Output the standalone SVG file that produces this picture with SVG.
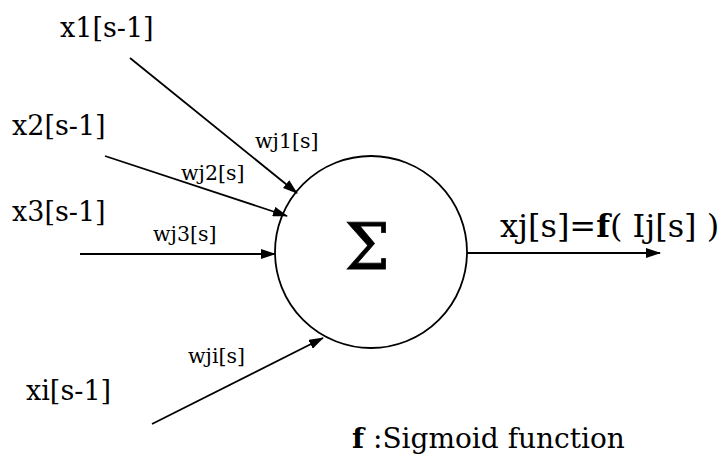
<svg xmlns="http://www.w3.org/2000/svg" width="723" height="464" viewBox="0 0 723 464">
<style>
text{font-family:"DejaVu Serif",serif;fill:#000}
.big{font-size:27px}
.w{font-size:20.5px}
.c{stroke:#000;stroke-width:1.8;fill:none;marker-end:url(#ah)}
</style>
<defs>
<marker id="ah" viewBox="0 0 15 10" refX="14" refY="5" markerWidth="15" markerHeight="10" markerUnits="userSpaceOnUse" orient="auto">
<path d="M0,0 L15,5 L0,10 Z" fill="#000"/>
</marker>
</defs>
<rect width="723" height="464" fill="#fff"/>
<g id="neuron">
<circle cx="371" cy="252" r="96" fill="none" stroke="#000" stroke-width="1.8"/>
<text x="367" y="269" font-size="64" text-anchor="middle" stroke="#000" stroke-width="0.8">Σ</text>
</g>
<g id="in1"><text class="big" x="60" y="37">x1[s-1]</text></g>
<g id="in2"><text class="big" x="12" y="135">x2[s-1]</text></g>
<g id="in3"><text class="big" x="12" y="221">x3[s-1]</text></g>
<g id="ini"><text class="big" x="26" y="400">xi[s-1]</text></g>
<g id="output"><text x="500" y="237" font-size="32">xj[s]=<tspan font-weight="900">f</tspan>( Ij[s] )</text></g>
<g id="legend"><text x="352" y="448" font-size="28"><tspan font-weight="900">f</tspan> :Sigmoid function</text></g>
<g id="connectors">
<line class="c" x1="130" y1="58" x2="297" y2="193"/>
<line class="c" x1="105" y1="156" x2="287" y2="216"/>
<line class="c" x1="80" y1="254" x2="275" y2="254"/>
<line class="c" x1="152" y1="424" x2="323" y2="338"/>
<line class="c" x1="467" y1="253" x2="660" y2="253"/>
<text class="w" x="255" y="148">wj1[s]</text>
<text class="w" x="181" y="180">wj2[s]</text>
<text class="w" x="153" y="241">wj3[s]</text>
<text class="w" x="188" y="363">wji[s]</text>
</g>
</svg>
